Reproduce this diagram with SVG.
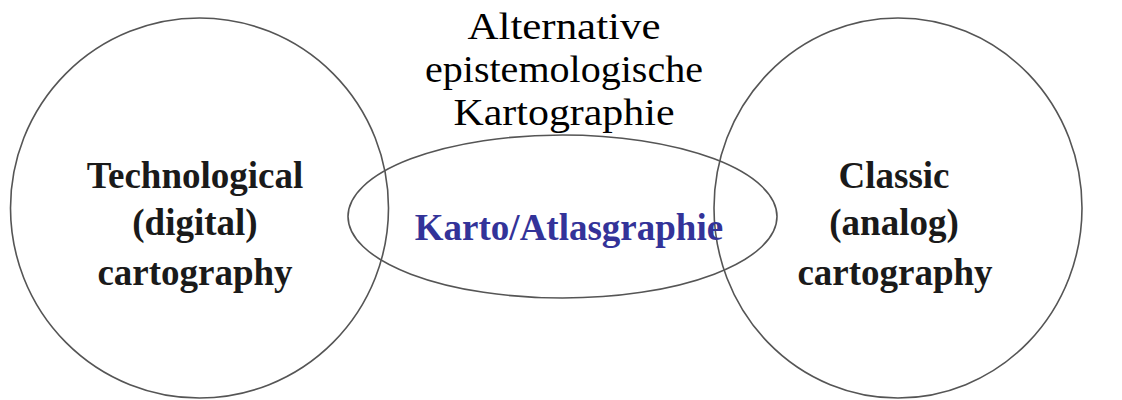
<svg xmlns="http://www.w3.org/2000/svg" width="1122" height="400" viewBox="0 0 1122 400">
<style>
.shape{fill:none;stroke:#555;stroke-width:1.6}
.lbl{font-family:"Liberation Serif","Times New Roman",serif;font-size:38px;fill:#000;text-anchor:middle}
.bold{font-family:"Liberation Serif","Times New Roman",serif;font-size:37px;font-weight:bold;fill:#1a1a1a;text-anchor:middle}
.blue{font-family:"Liberation Serif","Times New Roman",serif;font-size:37px;font-weight:bold;fill:#333399;text-anchor:middle}
</style>
<rect width="1122" height="400" fill="#fff"/>
<g id="connectors"></g>
<g id="left">
<ellipse class="shape" cx="199.5" cy="208" rx="189" ry="190"/>
<text class="bold" x="195" y="188">Technological</text>
<text class="bold" x="195" y="235">(digital)</text>
<text class="bold" x="195" y="285">cartography</text>
</g>
<g id="right">
<ellipse class="shape" cx="898" cy="208" rx="184" ry="190"/>
<text class="bold" x="894" y="188">Classic</text>
<text class="bold" x="894" y="235">(analog)</text>
<text class="bold" x="895" y="285">cartography</text>
</g>
<g id="middle">
<ellipse class="shape" cx="562.5" cy="216.5" rx="214.5" ry="81.5"/>
<text class="blue" x="569" y="240">Karto/Atlasgraphie</text>
</g>
<g id="top">
<text class="lbl" x="564" y="39" textLength="193" lengthAdjust="spacingAndGlyphs">Alternative</text>
<text class="lbl" x="564" y="82" textLength="278" lengthAdjust="spacingAndGlyphs">epistemologische</text>
<text class="lbl" x="564" y="125" textLength="221" lengthAdjust="spacingAndGlyphs">Kartographie</text>
</g>
</svg>
